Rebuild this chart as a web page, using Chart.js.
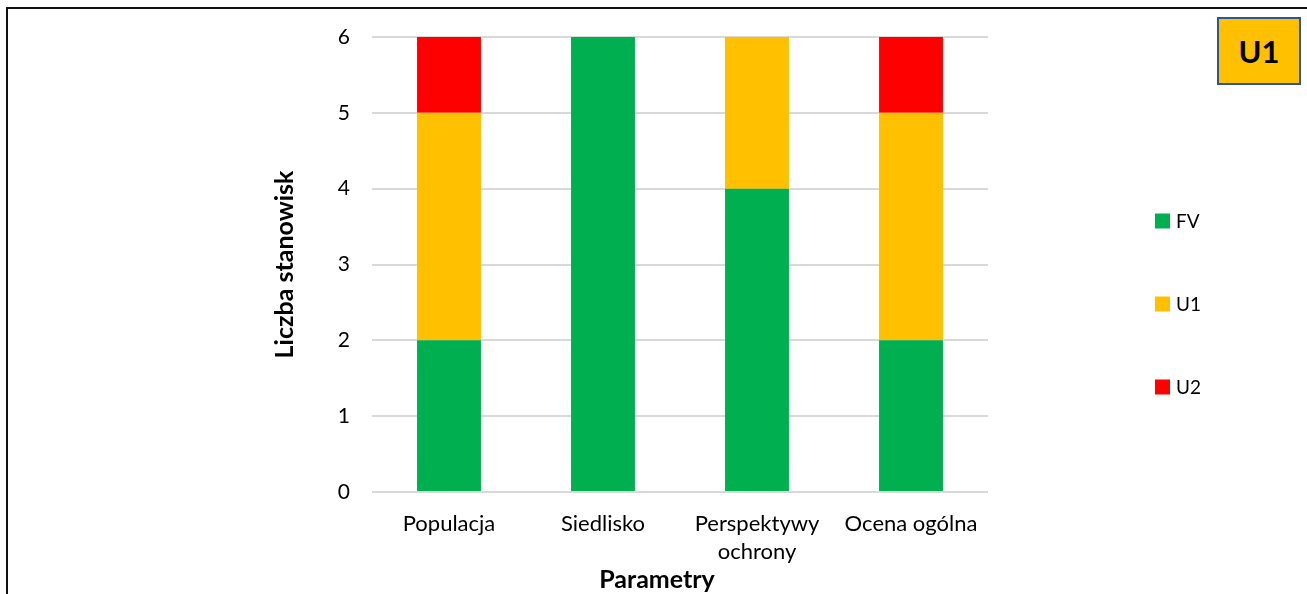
<!DOCTYPE html>
<html>
<head>
<meta charset="utf-8">
<script src="https://cdn.jsdelivr.net/npm/chart.js@4/dist/chart.umd.min.js"></script>
<style>
  html, body { margin: 0; padding: 0; background: #fff; }
  #wrap { position: relative; width: 1307px; height: 594px; overflow: hidden; }
  #frame { position: absolute; left: 6px; top: 7px; right: -10px; bottom: -10px;
           border-left: 2px solid #111; border-top: 2px solid #111; }
  #badge { position: absolute; left: 1217px; top: 17px; width: 80px; height: 64px;
           background: #FFC000; border: 2px solid #2F5597;
           font: bold 31px Lato, "Open Sans", sans-serif; color: #000;
           display: flex; align-items: center; justify-content: center; }
  canvas { position: absolute; left: 0; top: 0; }
</style>
</head>
<body>
<div id="wrap">
  <canvas id="c" width="1307" height="594"></canvas>
  <div id="frame"></div>
  <div id="badge">U1</div>
</div>
<script>
// Number of sites per assessment class for each parameter
const categories = ['Populacja', 'Siedlisko', ['Perspektywy', 'ochrony'], 'Ocena ogólna'];
const seriesNames = ['FV', 'U1', 'U2'];
const fvValues = [2, 6, 4, 2];
const u1Values = [3, 0, 2, 3];
const u2Values = [1, 0, 0, 1];
const seriesColors = ['#00B050', '#FFC000', '#FF0000'];
const yTicks = [0, 1, 2, 3, 4, 5, 6];

const FONT = 'Lato, "Open Sans", sans-serif';

// Vertical legend drawn at the right of the plot
const sideLegend = {
  id: 'sideLegend',
  afterDraw(chart) {
    const ctx = chart.ctx;
    const x = 1155, y0 = 221, gap = 83, box = 15;
    ctx.save();
    ctx.font = '19px ' + FONT;
    ctx.textBaseline = 'middle';
    ctx.textAlign = 'left';
    chart.data.datasets.forEach((ds, i) => {
      const y = y0 + i * gap;
      ctx.fillStyle = ds.backgroundColor;
      ctx.fillRect(x, y - box / 2, box, box);
      ctx.fillStyle = '#000';
      ctx.fillText(ds.label, x + box + 6, y + 1);
    });
    ctx.restore();
  }
};

// Category axis title
const xTitle = {
  id: 'xTitle',
  afterDraw(chart) {
    const ctx = chart.ctx;
    const a = chart.chartArea;
    ctx.save();
    ctx.font = 'bold 25px ' + FONT;
    ctx.fillStyle = '#000';
    ctx.textAlign = 'center';
    ctx.textBaseline = 'middle';
    ctx.fillText('Parametry', (a.left + a.right) / 2 - 23, 580);
    ctx.restore();
  }
};

new Chart(document.getElementById('c'), {
  type: 'bar',
  data: {
    labels: categories,
    datasets: [
      { label: seriesNames[0], data: fvValues, backgroundColor: seriesColors[0] },
      { label: seriesNames[1], data: u1Values, backgroundColor: seriesColors[1] },
      { label: seriesNames[2], data: u2Values, backgroundColor: seriesColors[2] }
    ]
  },
  options: {
    responsive: false,
    animation: false,
    events: [],
    layout: { padding: { left: 260, right: 319, top: 37, bottom: 0 } },
    datasets: { bar: { categoryPercentage: 1, barPercentage: 0.415, borderWidth: 0 } },
    plugins: { legend: { display: false }, tooltip: { enabled: false } },
    scales: {
      x: {
        stacked: true,
        grid: { display: false, drawTicks: false },
        border: { display: false },
        ticks: { color: '#000', font: { family: FONT, size: 22, lineHeight: 1.27 }, padding: 18, maxRotation: 0, autoSkip: false },
        afterFit(s) { s.height = 102; }
      },
      y: {
        stacked: true,
        min: 0, max: 6,
        afterBuildTicks(s) { s.ticks = yTicks.map(v => ({ value: v })); },
        grid: { color: '#D9D9D9', lineWidth: 2, drawTicks: false },
        border: { display: false },
        ticks: { color: '#000', font: { family: FONT, size: 21 }, padding: 22 },
        title: { display: true, text: 'Liczba stanowisk', color: '#000', font: { family: FONT, size: 25, weight: 'bold' }, padding: { top: 10, bottom: 0 } },
        afterFit(s) { s.width = 112; }
      }
    }
  },
  plugins: [sideLegend, xTitle]
});
</script>
</body>
</html>
